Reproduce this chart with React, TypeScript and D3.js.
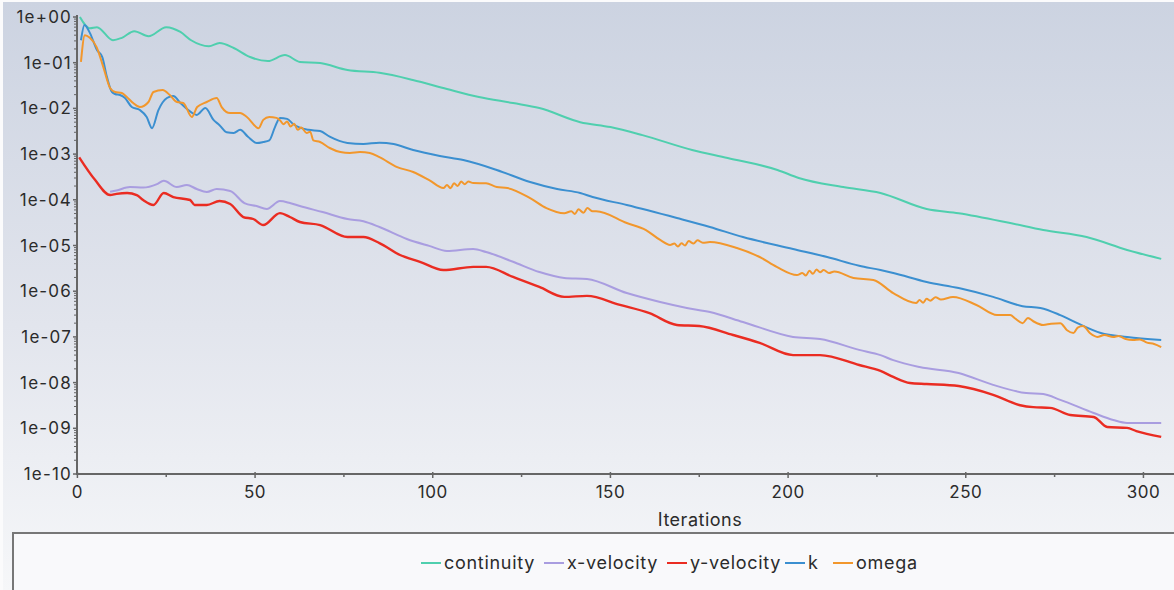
import React from "react";
import * as d3 from "d3";

// Residual histories: [iteration, residual]
const continuity: [number, number][] = [
  [0.7, 1.0], [3.5, 0.57], [5.5, 0.6], [10, 0.31], [12.5, 0.35], [16, 0.49], [20, 0.38],
  [25, 0.6], [29, 0.47], [32, 0.31], [37, 0.23], [40, 0.27], [44, 0.21], [48.6, 0.133],
  [53.6, 0.109], [58.4, 0.147], [62.6, 0.104], [68.3, 0.098], [76, 0.069], [85, 0.06],
  [94.4, 0.042], [104, 0.0266], [113, 0.0178], [122.6, 0.0131], [130, 0.0102], [141.5, 0.005],
  [150, 0.0039], [159, 0.0026], [173, 0.00123], [183, 8.2e-4], [197, 4.5e-4], [203, 3.0e-4],
  [215.5, 1.9e-4], [226, 1.41e-4], [239, 6.3e-5], [248, 5.1e-5], [262.5, 3.1e-5],
  [271.8, 2.18e-5], [284, 1.53e-5], [295.4, 8.0e-6], [305, 5.1e-6],
];

const xVelocity: [number, number][] = [
  [9.2, 1.5e-4], [11, 1.6e-4], [14.8, 1.9e-4], [18.5, 1.85e-4], [22.4, 2.2e-4], [24.3, 2.6e-4],
  [28, 1.9e-4], [30.8, 2.11e-4], [33.6, 1.72e-4], [36.4, 1.48e-4], [39.2, 1.72e-4], [43, 1.56e-4],
  [47, 8.5e-5], [50.4, 7.3e-5], [53.3, 6.3e-5], [57, 9.4e-5], [59.8, 8.5e-5], [62.6, 7.3e-5],
  [69, 5.4e-5], [76, 3.8e-5], [80.5, 3.4e-5], [85, 2.54e-5], [92.7, 1.39e-5], [99, 9.8e-6],
  [104, 7.6e-6], [111.4, 8.4e-6], [115, 7.2e-6], [122.6, 4.4e-6], [130, 2.63e-6], [137, 1.95e-6],
  [143.4, 1.85e-6], [154.6, 9.1e-7], [164, 5.8e-7], [171.5, 4.3e-7], [178, 3.5e-7],
  [187.3, 2.12e-7], [201.4, 1.0e-7], [209, 9.0e-8], [220, 5.2e-8], [226, 4.0e-8],
  [229.6, 3.1e-8], [237, 2.19e-8], [248, 1.62e-8], [257.7, 8.9e-9], [267, 5.9e-9],
  [271.8, 5.6e-9], [276.6, 4.2e-9], [286, 2.16e-9], [291.5, 1.52e-9], [295.4, 1.31e-9],
  [305, 1.31e-9],
];

const yVelocity: [number, number][] = [
  [0.5, 8.5e-4], [5, 2.7e-4], [9.2, 1.27e-4], [11, 1.35e-4], [14, 1.41e-4], [16.7, 1.27e-4],
  [18.5, 9.9e-5], [21.4, 7.7e-5], [24.3, 1.41e-4], [27, 1.15e-4], [31.7, 9.9e-5], [33, 7.7e-5],
  [36.4, 7.7e-5], [40, 9.4e-5], [43, 8.1e-5], [46.7, 4.2e-5], [49.5, 3.8e-5], [52.3, 2.8e-5],
  [57, 5.1e-5], [59.8, 4.2e-5], [62.6, 3.27e-5], [68.3, 2.8e-5], [76, 1.53e-5], [80.5, 1.53e-5],
  [85, 1.13e-5], [90.8, 6.2e-6], [96.4, 4.4e-6], [103, 2.9e-6], [111.4, 3.4e-6], [115, 3.4e-6],
  [122.6, 2.05e-6], [130, 1.24e-6], [137, 7.5e-7], [143.4, 7.9e-7], [152.7, 5.0e-7],
  [161, 3.3e-7], [168.7, 1.82e-7], [175, 1.73e-7], [184.5, 1.1e-7], [192, 7.4e-8],
  [201.4, 4.0e-8], [209, 4.0e-8], [220, 2.43e-8], [226, 1.8e-8], [229.6, 1.33e-8],
  [234.3, 9.8e-9], [239, 9.3e-9], [248, 8.4e-9], [257.7, 5.4e-9], [265.3, 3.2e-9],
  [269, 2.9e-9], [273.7, 2.8e-9], [279.4, 1.95e-9], [286, 1.77e-9], [289.8, 1.07e-9],
  [295.4, 1.02e-9], [298, 8.7e-10], [305, 6.5e-10],
];

const kResidual: [number, number][] = [
  [1, 0.31], [2, 0.67], [3.5, 0.45], [5.5, 0.19], [7, 0.133], [8.3, 0.049], [9.7, 0.0229],
  [10.6, 0.0207], [12, 0.0196], [13.4, 0.0169], [15.3, 0.0107], [17.6, 0.0092], [19.5, 0.0065],
  [21, 0.0037], [22.8, 0.0092], [25.2, 0.0169], [27, 0.0187], [29, 0.0131], [31.2, 0.0092],
  [33.6, 0.0072], [36, 0.0102], [38.3, 0.0056], [40, 0.0043], [42, 0.003], [44, 0.0029],
  [45.8, 0.0034], [48, 0.0024], [50.5, 0.00175], [52.3, 0.00184], [54, 0.002], [55.6, 0.0039],
  [57, 0.0062], [59, 0.0059], [60.8, 0.0045], [62.6, 0.0038], [65, 0.0034], [68.3, 0.0032],
  [71, 0.0024], [76, 0.00175], [80.5, 0.00166], [85, 0.00178], [89, 0.00166], [94.5, 0.00123],
  [102, 9.1e-4], [108.6, 7.4e-4], [118, 4.5e-4], [127.4, 2.45e-4], [135, 1.72e-4],
  [141.5, 1.41e-4], [145, 1.15e-4], [154.6, 7.7e-5], [168.7, 4.0e-5], [178, 2.54e-5],
  [187.3, 1.53e-5], [201.4, 8.4e-6], [211, 5.6e-6], [220, 3.6e-6], [226, 2.9e-6],
  [229.6, 2.5e-6], [239, 1.59e-6], [248, 1.17e-6], [257.7, 7.5e-7], [266, 4.7e-7],
  [271, 4.3e-7], [276.6, 3.0e-7], [281.4, 2.0e-7], [288, 1.22e-7], [295.4, 1.0e-7],
  [305, 8.6e-8],
];

const omega: [number, number][] = [
  [1, 0.104], [2.1, 0.4], [3.5, 0.35], [5.4, 0.22], [7.3, 0.08], [9.2, 0.028], [10.6, 0.0229],
  [12.5, 0.0217], [13.9, 0.0178], [15.7, 0.0131], [17.6, 0.0107], [20, 0.0138], [21.4, 0.0229],
  [24, 0.0253], [26, 0.0196], [28, 0.0138], [29.8, 0.0131], [32.2, 0.0065], [33.7, 0.0107],
  [36.4, 0.0138], [39.2, 0.0169], [40.6, 0.0107], [43, 0.0079], [45.8, 0.0079], [47.7, 0.0065],
  [51, 0.0037], [52.3, 0.0056], [54, 0.0065], [56, 0.0062], [57, 0.0055], [58, 0.0045],
  [59, 0.0052], [60, 0.004], [61, 0.0046], [62, 0.0034], [63, 0.0038], [64.5, 0.0029],
  [65.5, 0.0031], [66.4, 0.002], [68.3, 0.00184], [71, 0.00136], [74, 0.00111], [76.7, 0.00106],
  [79.5, 0.00111], [82.3, 0.00106], [85, 8.6e-4], [90, 5.2e-4], [94.5, 4.06e-4], [99, 2.7e-4],
  [103, 1.81e-4], [104, 2.1e-4], [105, 1.8e-4], [106, 2.3e-4], [107, 2.0e-4], [108, 2.5e-4],
  [109, 2.2e-4], [110, 2.5e-4], [111.4, 2.33e-4], [115, 2.3e-4], [118, 1.9e-4], [121, 1.81e-4],
  [127.4, 1.09e-4], [132, 6.6e-5], [137, 5.1e-5], [139, 5.6e-5], [140, 4.9e-5], [141, 6.2e-5],
  [142.4, 5.2e-5], [143.5, 6.6e-5], [145, 5.6e-5], [146, 5.6e-5], [154.6, 3.1e-5],
  [160, 2.18e-5], [164, 1.32e-5], [166.8, 1.03e-5], [168, 1.1e-5], [169, 9.5e-6],
  [170, 1.12e-5], [171, 1.0e-5], [172, 1.25e-5], [173.4, 1.1e-5], [174.5, 1.3e-5],
  [176, 1.15e-5], [178, 1.19e-5], [185.6, 8.8e-6], [192, 5.6e-6], [196.8, 3.4e-6],
  [202.5, 2.26e-6], [204, 2.5e-6], [205, 2.2e-6], [206, 2.8e-6], [207, 2.4e-6], [208, 3.0e-6],
  [209, 2.6e-6], [210, 2.9e-6], [211.5, 2.5e-6], [213, 2.7e-6], [218.4, 1.95e-6],
  [224, 1.76e-6], [229.6, 9.1e-7], [236, 5.5e-7], [237, 6.4e-7], [238, 5.6e-7], [239, 6.8e-7],
  [240, 6.2e-7], [241.5, 7.4e-7], [243, 6.6e-7], [246.4, 7.5e-7], [253, 5.0e-7],
  [258.8, 3.0e-7], [262.5, 3.0e-7], [264, 2.5e-7], [266, 2.0e-7], [267.5, 2.6e-7],
  [269, 2.2e-7], [271.8, 1.82e-7], [274, 1.95e-7], [276.6, 2.0e-7], [278.5, 1.4e-7],
  [280.3, 1.22e-7], [281.5, 1.6e-7], [283, 1.73e-7], [285, 1.2e-7], [287, 1.0e-7],
  [289, 1.1e-7], [291.5, 1.0e-7], [293, 1.05e-7], [295, 9.0e-8], [297, 8.6e-8], [299, 8.8e-8],
  [301, 7.5e-8], [303, 7.0e-8], [305, 6.0e-8],
];

const seriesNames = ["continuity", "x-velocity", "y-velocity", "k", "omega"];
const seriesColors = ["#4fcfae", "#a99de0", "#ea2c22", "#3b8fd0", "#f2972c"];
const seriesData = [continuity, xVelocity, yVelocity, kResidual, omega];

const xTicks = [0, 50, 100, 150, 200, 250, 300];
const xMinorTicks = [25, 75, 125, 175, 225, 275];
const yTicks = [1, 1e-1, 1e-2, 1e-3, 1e-4, 1e-5, 1e-6, 1e-7, 1e-8, 1e-9, 1e-10];
const yTickLabels = [
  "1e+00", "1e-01", "1e-02", "1e-03", "1e-04", "1e-05",
  "1e-06", "1e-07", "1e-08", "1e-09", "1e-10",
];
const xTitle = "Iterations";

const W = 1174;
const H = 590;
const FONT = "Inter, 'Noto Sans', sans-serif";

export default function App() {
  const x = d3.scaleLinear().domain([0, 308.6]).range([77.4, 1174]);
  const y = d3.scaleLog().domain([1e-10, 1]).range([474, 17]);
  const line = d3
    .line<[number, number]>()
    .x((d) => x(d[0]))
    .y((d) => y(d[1]))
    .curve(d3.curveMonotoneX);

  const minorY: number[] = [];
  for (let e = -10; e < 0; e++) {
    for (let m = 2; m <= 9; m++) minorY.push(m * Math.pow(10, e));
  }

  // legend swatch left edges
  const legendX = [421, 544, 667, 785, 833];
  const textColor = "#2b2b2b";

  return (
    <svg
      width={W}
      height={H}
      style={{ position: "absolute", left: 0, top: 0, display: "block" }}
      fontFamily={FONT}
    >
      <defs>
        <linearGradient id="bg" x1="0" y1="0" x2="0" y2="1">
          <stop offset="0" stopColor="#ccd3e1" />
          <stop offset="0.55" stopColor="#e2e5ed" />
          <stop offset="1" stopColor="#f6f7f9" />
        </linearGradient>
      </defs>
      <rect x={0} y={0} width={W} height={H} fill="#fbfbfc" />
      <rect x={3} y={2} width={W - 3} height={H - 2} fill="url(#bg)" />

      {/* legend box */}
      <rect x={13} y={533} width={W} height={H} fill="#f9f9fb" stroke="#777" strokeWidth={2} />

      {/* axes */}
      <line x1={77} x2={77} y1={15} y2={475} stroke="#666" strokeWidth={2} />
      <line x1={76} x2={W} y1={474} y2={474} stroke="#666" strokeWidth={2} />

      {minorY.map((v, i) => (
        <line key={"my" + i} x1={74} x2={77} y1={y(v)} y2={y(v)} stroke="#666" strokeWidth={1} />
      ))}
      {yTicks.map((v, i) => (
        <g key={"yt" + i}>
          <line x1={73} x2={77} y1={y(v)} y2={y(v)} stroke="#666" strokeWidth={1.5} />
          <text
            x={72}
            y={y(v)}
            textAnchor="end"
            dominantBaseline="central"
            fontSize={17}
            letterSpacing={1.2}
            fill={textColor}
          >
            {yTickLabels[i]}
          </text>
        </g>
      ))}

      {xMinorTicks.map((v) => (
        <line key={"mx" + v} x1={x(v)} x2={x(v)} y1={473} y2={477} stroke="#666" strokeWidth={1.5} />
      ))}
      {xTicks.map((v) => (
        <g key={"xt" + v}>
          <line x1={x(v)} x2={x(v)} y1={472} y2={478} stroke="#666" strokeWidth={1.5} />
          <text
            x={x(v)}
            y={498}
            textAnchor="middle"
            fontSize={17}
            letterSpacing={0.5}
            fill={textColor}
          >
            {v}
          </text>
        </g>
      ))}
      <text
        x={700}
        y={526}
        textAnchor="middle"
        fontSize={18}
        letterSpacing={0.5}
        fill={textColor}
      >
        {xTitle}
      </text>

      {/* residual curves */}
      {seriesData.map((d, i) => (
        <path
          key={seriesNames[i]}
          d={line(d) || ""}
          fill="none"
          stroke={seriesColors[i]}
          strokeWidth={i === 2 ? 2.4 : 2}
          strokeLinejoin="round"
        />
      ))}

      {/* legend */}
      {seriesNames.map((n, i) => (
        <g key={"lg" + n}>
          <line
            x1={legendX[i]}
            x2={legendX[i] + 20}
            y1={563}
            y2={563}
            stroke={seriesColors[i]}
            strokeWidth={2}
          />
          <text
            x={legendX[i] + 23}
            y={569}
            fontSize={18}
            letterSpacing={0.7}
            fill={textColor}
          >
            {n}
          </text>
        </g>
      ))}
    </svg>
  );
}
